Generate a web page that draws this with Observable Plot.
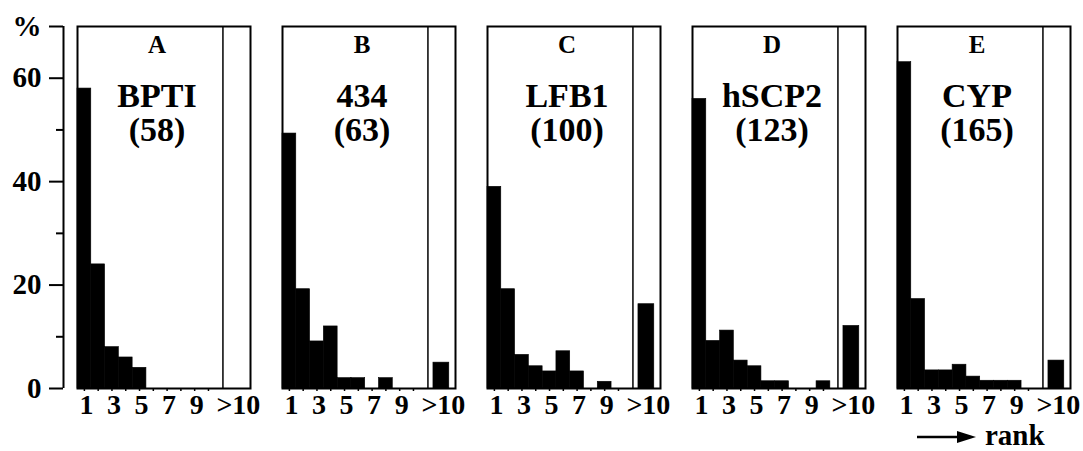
<!DOCTYPE html>
<html><head><meta charset="utf-8">
<script src="https://cdn.jsdelivr.net/npm/d3@7"></script>
<script src="https://cdn.jsdelivr.net/npm/@observablehq/plot@0.6"></script>
<style>
html,body{margin:0;padding:0;background:#fff;}
#chart{width:1083px;height:420px;}
#caption{position:relative;width:1083px;height:31px;font-family:'Liberation Serif','Times New Roman',serif;font-weight:bold;color:#000;}
#caption span{position:absolute;left:985px;top:1px;font-size:29px;line-height:1;}
#caption svg{position:absolute;left:917px;top:10px;}
</style></head><body>
<div id="chart"></div>
<div id="caption"><svg width="60" height="14"><line x1="0" y1="7" x2="44" y2="7" stroke="#000" stroke-width="2.5"/><polygon points="40,1 59,7 40,13" fill="#000"/></svg><span>rank</span></div>
<script>
// ---- data ----
const panels = ["A", "B", "C", "D", "E"];
const proteins = ["BPTI", "434", "LFB1", "hSCP2", "CYP"];
const residues = [58, 63, 100, 123, 165];
const ranks = [1, 2, 3, 4, 5, 6, 7, 8, 9, 10];
const labeledRanks = [1, 3, 5, 7, 9];
const overflowLabel = ">10";
const yTicks = [0, 20, 40, 60];
const yMinorTicks = [10, 30, 50];
const yUnit = "%";
const pctA = [58, 24, 8, 6, 4, 0, 0, 0, 0, 0];
const pctB = [49.3, 19.2, 9.1, 12, 2, 2, 0, 2, 0, 0];
const pctC = [39, 19.2, 6.5, 4.3, 3.3, 7.2, 3.3, 0, 1.3, 0];
const pctD = [56, 9.2, 11.2, 5.4, 4.3, 1.4, 1.4, 0, 0, 1.4];
const pctE = [63.1, 17.3, 3.5, 3.5, 4.6, 2.3, 1.5, 1.5, 1.5, 0];
const overflowPct = [0, 5, 16.3, 12.1, 5.4];

// ---- layout constants ----
const Y_MAX = 70;
const X_MAX = 12.55;
const DIVIDER = 10.55;
const OVER_X1 = 10.95, OVER_X2 = 12.1;
const OVER_MID = (OVER_X1 + OVER_X2) / 2;

const series = [pctA, pctB, pctC, pctD, pctE];
const bars = panels.flatMap((p, i) => [
  ...ranks.map((r, j) => ({panel: p, x1: r - 1, x2: r, pct: series[i][j]})),
  {panel: p, x1: OVER_X1, x2: OVER_X2, pct: overflowPct[i]}
]);
const labels = panels.map((p, i) => ({panel: p, name: proteins[i], count: `(${residues[i]})`}));
const labelTicks = [...labeledRanks.map(r => r - 0.5), OVER_MID];
const labelFor = d => d > 10 ? overflowLabel : String(d + 0.5);

const chart = Plot.plot({
  width: 1083, height: 420,
  marginLeft: 75, marginRight: 11, marginTop: 26, marginBottom: 32,
  style: {fontFamily: "'Liberation Serif','Times New Roman',serif", fontWeight: "bold", background: "#fff", color: "#000", overflow: "visible"},
  fx: {domain: panels, paddingInner: 0.1543, paddingOuter: 0, axis: null, label: null},
  x: {domain: [0, X_MAX], label: null},
  y: {domain: [0, Y_MAX], label: null},
  marks: [
    Plot.rect(bars, {fx: "panel", x1: "x1", x2: "x2", y1: 0, y2: "pct", fill: "#000", stroke: "#000", strokeWidth: 0.6}),
    Plot.ruleX([DIVIDER], {strokeWidth: 1.5}),
    Plot.frame({strokeWidth: 2}),
    Plot.ruleX([{panel: panels[0], at: 0}], {fx: "panel", x: "at", dx: -14, strokeWidth: 2}),
    Plot.axisY({ticks: [...yTicks, Y_MAX], label: null, tickSize: 14, tickPadding: 8, dx: -14, strokeWidth: 2, fontSize: 29,
      tickFormat: d => d === Y_MAX ? yUnit : String(d)}),
    Plot.axisY({ticks: yMinorTicks, label: null, tickSize: 7, dx: -14, strokeWidth: 2, tickFormat: () => ""}),
    Plot.axisX({ticks: ranks.map(r => r - 0.5), label: null, tickSize: 3, strokeWidth: 1.5, tickFormat: () => ""}),
    Plot.axisX({ticks: labelTicks, label: null, tickSize: 0, tickPadding: 6, fontSize: 28, dx: 2, tickFormat: labelFor}),
    Plot.text(labels, {fx: "panel", text: "panel", frameAnchor: "top", lineAnchor: "bottom", dx: -7, dy: 26, fontSize: 25}),
    Plot.text(labels, {fx: "panel", text: "name", frameAnchor: "top", lineAnchor: "bottom", dx: -7, dy: 80, fontSize: 34}),
    Plot.text(labels, {fx: "panel", text: "count", frameAnchor: "top", lineAnchor: "bottom", dx: -7, dy: 114, fontSize: 34})
  ]
});
document.getElementById("chart").appendChild(chart);
</script>
</body></html>
